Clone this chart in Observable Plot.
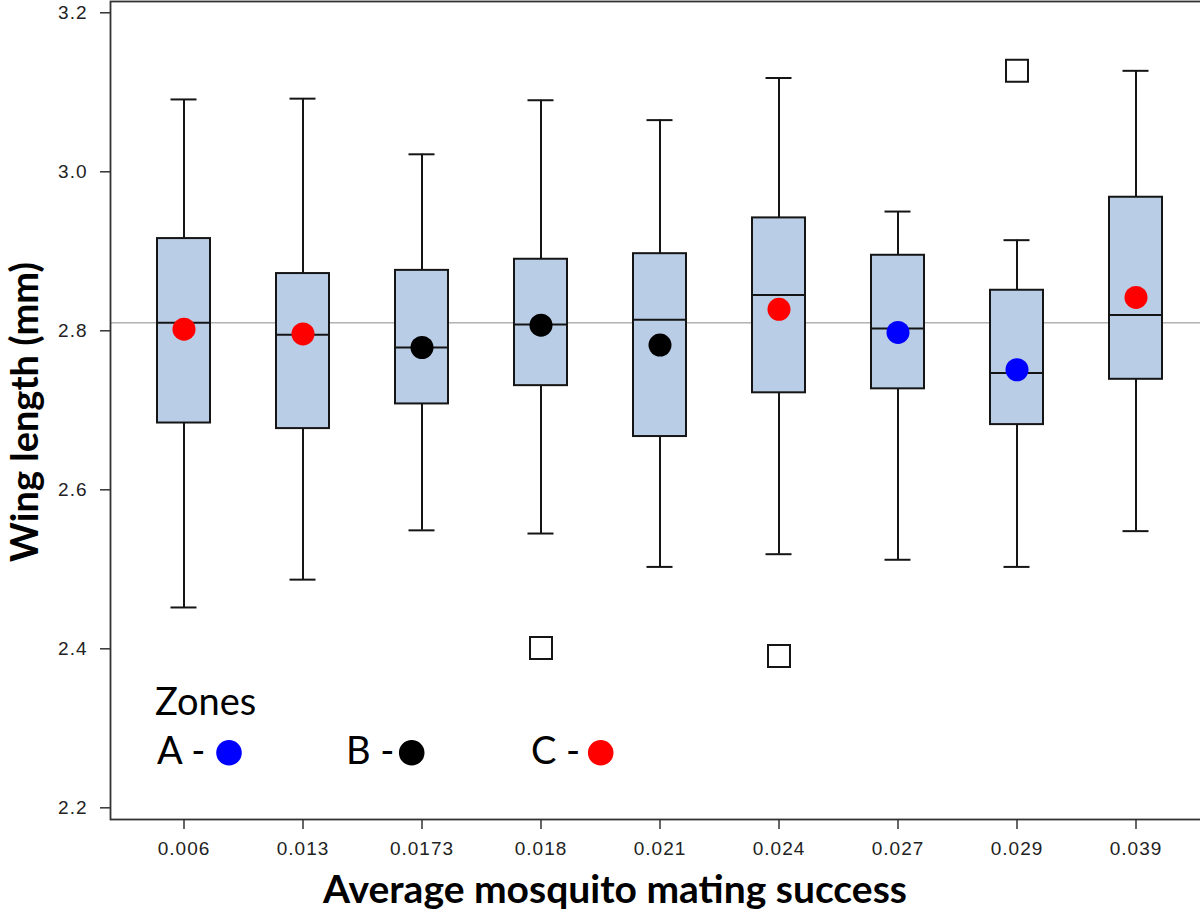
<!DOCTYPE html>
<html>
<head>
<meta charset="utf-8">
<script src="https://cdn.jsdelivr.net/npm/d3@7"></script>
<script src="https://cdn.jsdelivr.net/npm/@observablehq/plot@0.6"></script>
<style>
  html, body { margin: 0; padding: 0; background: white; overflow: hidden; }
  #wrap { position: relative; width: 1200px; height: 918px; overflow: hidden; }
  #wrap svg.plot { max-width: none !important; }
  #overlay { position: absolute; left: 0; top: 0; pointer-events: none; }
</style>
</head>
<body>
<div id="wrap"></div>
<script>
// ---- data ----
const categories = ["0.006", "0.013", "0.0173", "0.018", "0.021", "0.024", "0.027", "0.029", "0.039"];
const zones = ["C", "C", "B", "B", "B", "C", "A", "A", "C"];
const whiskerLow = [2.452, 2.487, 2.549, 2.545, 2.503, 2.519, 2.512, 2.503, 2.548];
const q1 = [2.684, 2.677, 2.708, 2.731, 2.667, 2.722, 2.727, 2.682, 2.739];
const medians = [2.810, 2.795, 2.779, 2.808, 2.814, 2.845, 2.803, 2.747, 2.820];
const q3 = [2.916, 2.872, 2.876, 2.890, 2.897, 2.942, 2.895, 2.851, 2.968];
const whiskerHigh = [3.091, 3.092, 3.022, 3.090, 3.065, 3.118, 2.950, 2.914, 3.127];
const means = [2.802, 2.796, 2.779, 2.807, 2.782, 2.827, 2.798, 2.751, 2.842];
const outlierCats = ["0.018", "0.024", "0.029"];
const outlierValues = [2.401, 2.391, 3.127];
const grandMean = [2.810];
const yTicks = [2.2, 2.4, 2.6, 2.8, 3.0, 3.2];
const zoneNames = ["A", "B", "C"];
const zoneColors = ["#0000ff", "#000000", "#ff0000"];

const boxes = categories.map((c, i) => ({
  cat: c, zone: zones[i], lo: whiskerLow[i], q1: q1[i], med: medians[i],
  q3: q3[i], hi: whiskerHigh[i], mean: means[i]
}));
const outliers = outlierCats.map((c, i) => ({cat: c, v: outlierValues[i]}));

const ink = "#151515";
const sw = 2;
const chart = Plot.plot({
  width: 1209,
  height: 918,
  marginLeft: 110,
  marginRight: 0,
  marginTop: 1,
  marginBottom: 99,
  style: {fontFamily: "'Liberation Sans', Arial, sans-serif", fontSize: "19px", letterSpacing: "1px", color: "#222", background: "white"},
  x: {type: "band", domain: categories, paddingInner: 0.556, paddingOuter: 0.378, align: 0.5, label: null},
  y: {domain: [2.1853, 3.2142], label: null},
  color: {domain: zoneNames, range: zoneColors},
  marks: [
    Plot.axisX({tickSize: 10, tickPadding: 12, stroke: "#333", strokeWidth: 1.5, label: null}),
    Plot.axisY({ticks: yTicks, tickFormat: d => d.toFixed(1), tickSize: 10, tickPadding: 13, stroke: "#333", strokeWidth: 1.5, label: null}),
    Plot.ruleY(grandMean, {stroke: "#8c8c8c", strokeWidth: 1}),
    Plot.ruleX(boxes, {x: "cat", y1: "lo", y2: "hi", stroke: ink, strokeWidth: sw}),
    Plot.tickY(boxes, {x: "cat", y: "hi", stroke: ink, strokeWidth: sw, insetLeft: 13.5, insetRight: 13.5}),
    Plot.tickY(boxes, {x: "cat", y: "lo", stroke: ink, strokeWidth: sw, insetLeft: 13.5, insetRight: 13.5}),
    Plot.barY(boxes, {x: "cat", y1: "q1", y2: "q3", fill: "#bacde6", stroke: ink, strokeWidth: sw}),
    Plot.tickY(boxes, {x: "cat", y: "med", stroke: ink, strokeWidth: sw}),
    Plot.dot(boxes, {x: "cat", y: "mean", fill: "zone", r: 11.5, stroke: null}),
    Plot.dot(outliers, {x: "cat", y: "v", symbol: "square", r: 12.4, fill: "white", stroke: ink, strokeWidth: sw}),
    Plot.frame({stroke: "#333", strokeWidth: 1.8})
  ]
});
chart.classList.add("plot");
chart.style.maxWidth = "none";
const wrap = document.getElementById("wrap");
wrap.appendChild(chart);

// ---- titles and legend overlay ----
const ov = d3.select(wrap).append("svg").attr("id", "overlay")
  .attr("width", 1200).attr("height", 918)
  .style("font-family", "Lato, 'Open Sans', sans-serif");

ov.append("text").attr("x", 615).attr("y", 903).attr("text-anchor", "middle")
  .attr("font-size", 39).attr("font-weight", "bold").attr("fill", "#000")
  .text("Average mosquito mating success");
ov.append("text").attr("transform", "translate(38,412) rotate(-90)").attr("text-anchor", "middle")
  .attr("font-size", 38).attr("font-weight", "bold").attr("fill", "#000")
  .text("Wing length (mm)");

ov.append("text").attr("x", 155).attr("y", 715).attr("font-size", 38).attr("fill", "#000").text("Zones");
const legX = [157, 346, 531];
const dotX = [229, 411.7, 600.7];
zoneNames.forEach((z, i) => {
  ov.append("text").attr("x", legX[i]).attr("y", 764).attr("font-size", 38).attr("fill", "#000").text(z + " -");
  ov.append("circle").attr("cx", dotX[i]).attr("cy", 752.7).attr("r", 12.8).attr("fill", zoneColors[i]);
});
</script>
</body>
</html>
